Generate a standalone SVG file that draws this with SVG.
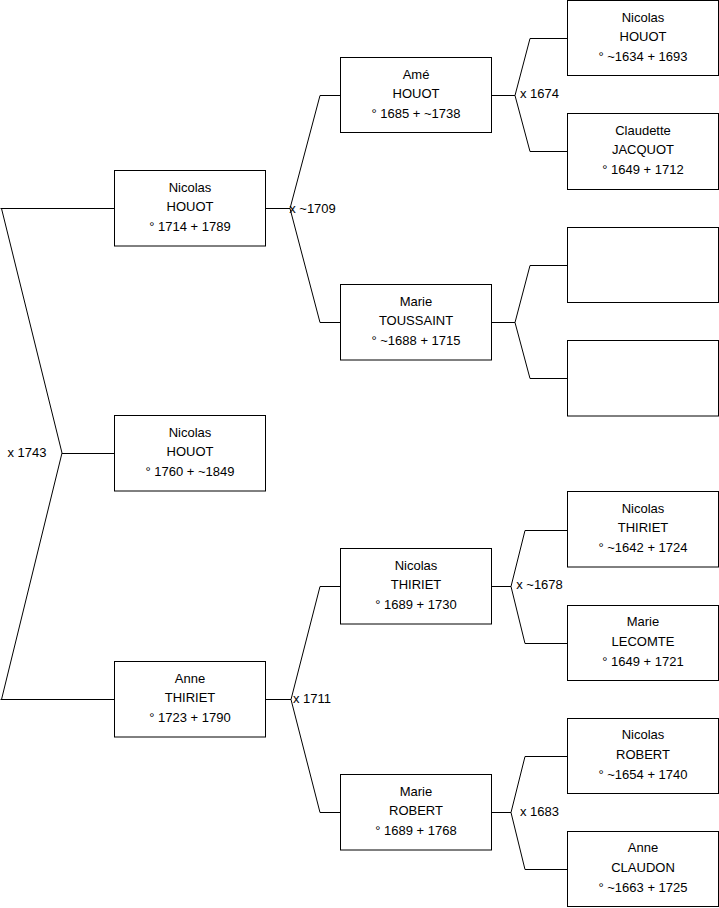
<svg xmlns="http://www.w3.org/2000/svg" width="719" height="908" viewBox="0 0 719 908">
<style>
.box{fill:#fff;stroke:#000;stroke-width:1}
.t{font-family:"Liberation Sans",Arial,sans-serif;font-size:13px;fill:#000;text-anchor:middle}
.c{fill:none;stroke:#000;stroke-width:1}
</style>
<rect width="719" height="908" fill="#fff"/>
<g id="connectors">
<path class="c" d="M0.5,208.5H114.5M1.5,208.5L62,453L1.5,699.5M0.5,699.5H114.5M62,453.5H114.5"/>
<path class="c" d="M265.5,208.5H290M320,95.5L290,208.5L320,322.5M320,95.5H340.5M320,322.5H340.5"/>
<path class="c" d="M265.5,699.5H291M320,586.5L291,699.5L320,812.5M320,586.5H340.5M320,812.5H340.5"/>
<path class="c" d="M491.5,95.5H515M530,38.5L515,95.5L530,151.5M530,38.5H567.5M530,151.5H567.5"/>
<path class="c" d="M491.5,322.5H515M530,265.5L515,322.5L530,378.5M530,265.5H567.5M530,378.5H567.5"/>
<path class="c" d="M491.5,586.5H511M525,530.5L511,586.5L525,643.5M525,530.5H567.5M525,643.5H567.5"/>
<path class="c" d="M491.5,812.5H511M525,756.5L511,812.5L525,869.5M525,756.5H567.5M525,869.5H567.5"/>
<text class="t" x="27" y="456.5">x 1743</text>
<text class="t" x="312.5" y="212.5">x ~1709</text>
<text class="t" x="312" y="703">x 1711</text>
<text class="t" x="539.5" y="97.5">x 1674</text>
<text class="t" x="539.5" y="589">x ~1678</text>
<text class="t" x="539.5" y="816">x 1683</text>
</g>
<g id="n_nicolas_houot_1760">
<rect class="box" x="114.5" y="415.5" width="151" height="75.5"/>
<text class="t" x="190" y="436.5">Nicolas</text>
<text class="t" x="190" y="456.3">HOUOT</text>
<text class="t" x="190" y="476">° 1760 + ~1849</text>
</g>
<g id="n_nicolas_houot_1714">
<rect class="box" x="114.5" y="170.5" width="151" height="75.5"/>
<text class="t" x="190" y="191.5">Nicolas</text>
<text class="t" x="190" y="211.3">HOUOT</text>
<text class="t" x="190" y="231">° 1714 + 1789</text>
</g>
<g id="n_anne_thiriet_1723">
<rect class="box" x="114.5" y="661.5" width="151" height="75.5"/>
<text class="t" x="190" y="682.5">Anne</text>
<text class="t" x="190" y="702.3">THIRIET</text>
<text class="t" x="190" y="722">° 1723 + 1790</text>
</g>
<g id="n_ame_houot">
<rect class="box" x="340.5" y="57.5" width="151" height="75"/>
<text class="t" x="416" y="78.5">Amé</text>
<text class="t" x="416" y="98.3">HOUOT</text>
<text class="t" x="416" y="118">° 1685 + ~1738</text>
</g>
<g id="n_marie_toussaint">
<rect class="box" x="340.5" y="284.5" width="151" height="75.5"/>
<text class="t" x="416" y="305.5">Marie</text>
<text class="t" x="416" y="325.3">TOUSSAINT</text>
<text class="t" x="416" y="345">° ~1688 + 1715</text>
</g>
<g id="n_nicolas_thiriet_1689">
<rect class="box" x="340.5" y="548.5" width="151" height="75.5"/>
<text class="t" x="416" y="569.5">Nicolas</text>
<text class="t" x="416" y="589.3">THIRIET</text>
<text class="t" x="416" y="609">° 1689 + 1730</text>
</g>
<g id="n_marie_robert">
<rect class="box" x="340.5" y="774.5" width="151" height="75.5"/>
<text class="t" x="416" y="795.5">Marie</text>
<text class="t" x="416" y="815.3">ROBERT</text>
<text class="t" x="416" y="835">° 1689 + 1768</text>
</g>
<g id="n_nicolas_houot_1634">
<rect class="box" x="567.5" y="0.5" width="151" height="75"/>
<text class="t" x="643" y="21.5">Nicolas</text>
<text class="t" x="643" y="41.3">HOUOT</text>
<text class="t" x="643" y="61">° ~1634 + 1693</text>
</g>
<g id="n_claudette_jacquot">
<rect class="box" x="567.5" y="113.5" width="151" height="76"/>
<text class="t" x="643" y="134.5">Claudette</text>
<text class="t" x="643" y="154.3">JACQUOT</text>
<text class="t" x="643" y="174">° 1649 + 1712</text>
</g>
<g id="n_unknown_1">
<rect class="box" x="567.5" y="227.5" width="151" height="75"/>
</g>
<g id="n_unknown_2">
<rect class="box" x="567.5" y="340.5" width="151" height="75.5"/>
</g>
<g id="n_nicolas_thiriet_1642">
<rect class="box" x="567.5" y="491.5" width="151" height="75.5"/>
<text class="t" x="643" y="512.5">Nicolas</text>
<text class="t" x="643" y="532.3">THIRIET</text>
<text class="t" x="643" y="552">° ~1642 + 1724</text>
</g>
<g id="n_marie_lecomte">
<rect class="box" x="567.5" y="605.5" width="151" height="75"/>
<text class="t" x="643" y="626">Marie</text>
<text class="t" x="643" y="645.8">LECOMTE</text>
<text class="t" x="643" y="665.5">° 1649 + 1721</text>
</g>
<g id="n_nicolas_robert">
<rect class="box" x="567.5" y="718.5" width="151" height="75"/>
<text class="t" x="643" y="739">Nicolas</text>
<text class="t" x="643" y="758.8">ROBERT</text>
<text class="t" x="643" y="778.5">° ~1654 + 1740</text>
</g>
<g id="n_anne_claudon">
<rect class="box" x="567.5" y="831.5" width="151" height="75"/>
<text class="t" x="643" y="852">Anne</text>
<text class="t" x="643" y="871.8">CLAUDON</text>
<text class="t" x="643" y="891.5">° ~1663 + 1725</text>
</g>
</svg>
